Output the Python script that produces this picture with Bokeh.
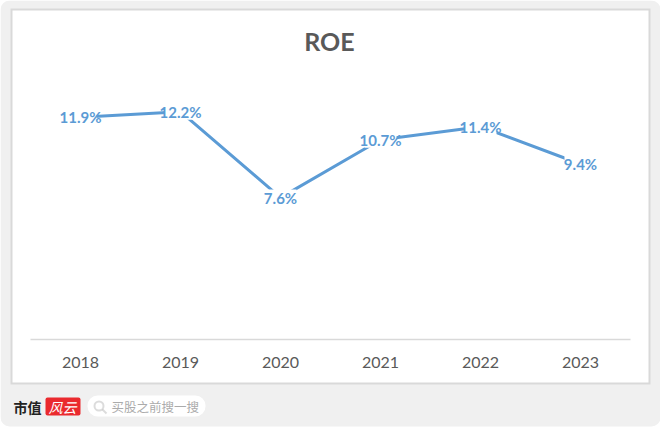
from bokeh.embed import file_html
from bokeh.resources import INLINE
from bokeh.plotting import figure
from bokeh.models import BoxAnnotation, Label, PolyAnnotation, Range1d, FactorRange, ColumnDataSource
from bokeh.core.properties import value

years = ["2018", "2019", "2020", "2021", "2022", "2023"]
roe = [11.9, 12.2, 7.6, 10.7, 11.4, 9.4]
roe_labels = ["11.9%", "12.2%", "7.6%", "10.7%", "11.4%", "9.4%"]
chart_title = "ROE"

BLUE = "#5b9bd5"
GREY = "#595959"
W, H = 660, 429
PX_PER_UNIT = 18.67
AXIS_Y = 339  # picture row of the zero line


def Y(v):  # picture row -> screen units, measured up from the frame's bottom
    return H - v


p = figure(width=W, height=H, output_backend="svg", toolbar_location=None,
           x_range=FactorRange(factors=years, range_padding=0.3, range_padding_units="absolute",
                               factor_padding=0),
           y_range=Range1d(-(H - AXIS_Y) / PX_PER_UNIT, AXIS_Y / PX_PER_UNIT),
           min_border=0, background_fill_color="#ffffff", border_fill_color="#ffffff",
           outline_line_color=None)


def box(l, r, t, b, **kw):
    p.add_layout(BoxAnnotation(left=l, right=r, top=Y(t), bottom=Y(b),
                               left_units="screen", right_units="screen",
                               top_units="screen", bottom_units="screen",
                               level="underlay", **kw))


box(0, 660, 0, 426, fill_color="#f0f0f0", fill_alpha=1, line_color=None, border_radius=9)
box(10, 650, 8, 384, fill_color="#d9d9d9", fill_alpha=1, line_color=None)
box(12, 648, 10, 382, fill_color="#ffffff", fill_alpha=1, line_color=None)
box(87, 205, 395, 416, fill_color="#ffffff", fill_alpha=1, line_color=None, border_radius=10)
box(45, 80, 397, 415, fill_color="#ea2a2e", fill_alpha=1, line_color=None, border_radius=2)
box(94, 103, 401, 410, fill_alpha=0, line_color="#8c8c8c", line_width=2, border_radius=5)
p.add_layout(PolyAnnotation(xs=[102, 106], ys=[Y(409), Y(413)], xs_units="screen", ys_units="screen",
                            fill_alpha=0, line_color="#8c8c8c", line_width=2, level="underlay"))

for txt, x, y, size, col, font, style in [
    ("市值", 13, 406, "14px", "#222222", "Noto Sans CJK SC", "bold"),
    ("风云", 48, 406, "14px", "#ffffff", "Noto Sans CJK SC", "italic"),
    ("买股之前搜一搜", 111, 406, "12.5px", "#ababab", "Noto Sans CJK SC", "normal"),
]:
    p.add_layout(Label(x=x, y=Y(y), x_units="screen", y_units="screen", text=txt,
                       text_font_size=size, text_color=col, text_font=font, text_font_style=style,
                       text_baseline="middle", text_align="left"))

p.add_layout(Label(x=329, y=Y(40), x_units="screen", y_units="screen", text=chart_title,
                   text_font_size="25px", text_color=GREY, text_font="Lato", text_font_style="bold",
                   text_baseline="middle", text_align="center"))

source = ColumnDataSource(dict(year=years, roe=roe, label=roe_labels))
p.line("year", "roe", source=source, line_color=BLUE, line_width=3, line_cap="round")
# white patches open the line around each data label
p.rect("year", "roe", width=32, height=16, width_units="screen", height_units="screen",
       source=source, fill_color="#ffffff", line_color=None)
p.text("year", "roe", text="label", source=source, text_color=BLUE, text_font=value("Lato"),
       text_font_style="bold", text_font_size="15px", text_align="center", text_baseline="middle")

p.yaxis.visible = False
p.grid.visible = False
ax = p.xaxis[0]
ax.fixed_location = 0
ax.bounds = (0, 6)
ax.axis_line_color = "#d9d9d9"
ax.axis_line_width = 1.5
ax.major_tick_line_color = None
ax.minor_tick_line_color = None
ax.major_label_text_font = "Lato"
ax.major_label_text_font_size = "16px"
ax.major_label_text_color = GREY
ax.major_label_standoff = 11

open("out.html", "w").write(file_html(p, INLINE))
